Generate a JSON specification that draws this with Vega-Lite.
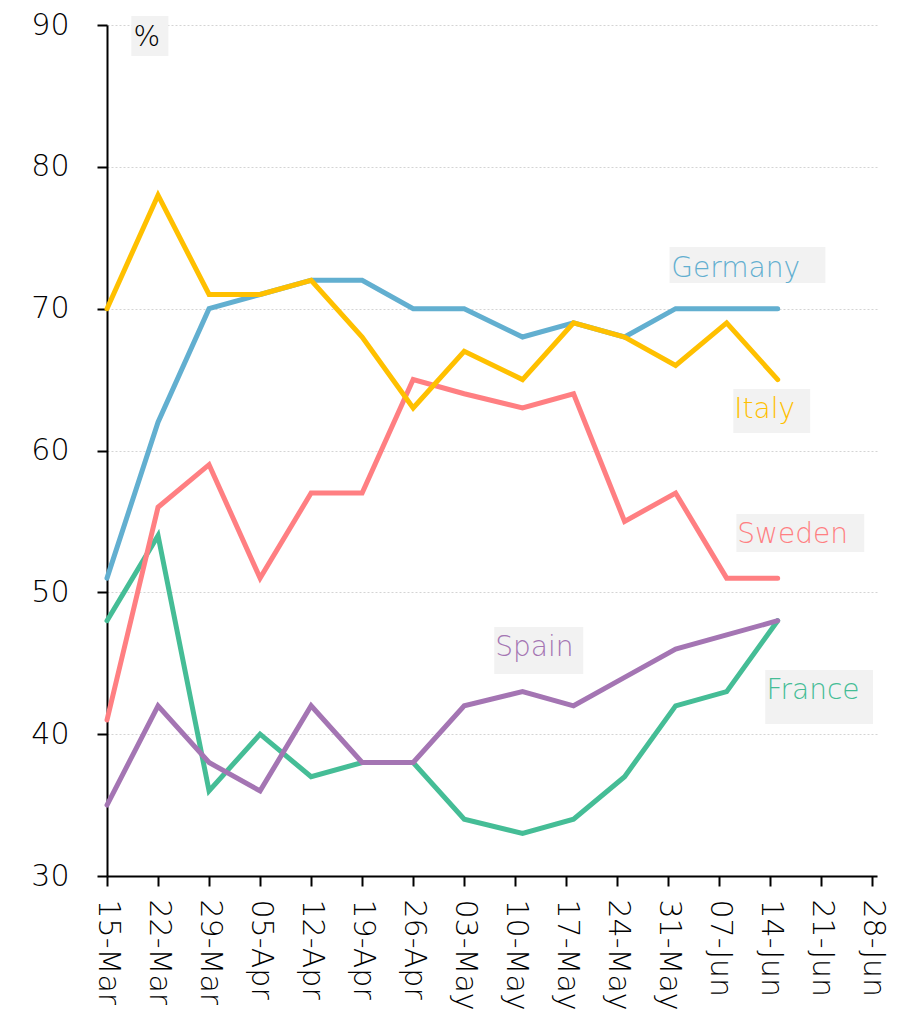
{
  "$schema": "https://vega.github.io/schema/vega-lite/v6.json",
  "width": 770,
  "height": 851,
  "autosize": "none",
  "padding": {"left": 107, "top": 25, "right": 27, "bottom": 133},
  "background": "white",
  "config": {"view": {"stroke": null}, "font": "DejaVu Sans"},
  "datasets": {
    "series": [
      {"date": "2020-03-15T00:00:00", "country": "Germany", "value": 51},
      {"date": "2020-03-22T00:00:00", "country": "Germany", "value": 62},
      {"date": "2020-03-29T00:00:00", "country": "Germany", "value": 70},
      {"date": "2020-04-05T00:00:00", "country": "Germany", "value": 71},
      {"date": "2020-04-12T00:00:00", "country": "Germany", "value": 72},
      {"date": "2020-04-19T00:00:00", "country": "Germany", "value": 72},
      {"date": "2020-04-26T00:00:00", "country": "Germany", "value": 70},
      {"date": "2020-05-03T00:00:00", "country": "Germany", "value": 70},
      {"date": "2020-05-11T00:00:00", "country": "Germany", "value": 68},
      {"date": "2020-05-18T00:00:00", "country": "Germany", "value": 69},
      {"date": "2020-05-25T00:00:00", "country": "Germany", "value": 68},
      {"date": "2020-06-01T00:00:00", "country": "Germany", "value": 70},
      {"date": "2020-06-08T00:00:00", "country": "Germany", "value": 70},
      {"date": "2020-06-15T00:00:00", "country": "Germany", "value": 70},
      {"date": "2020-03-15T00:00:00", "country": "France", "value": 48},
      {"date": "2020-03-22T00:00:00", "country": "France", "value": 54},
      {"date": "2020-03-29T00:00:00", "country": "France", "value": 36},
      {"date": "2020-04-05T00:00:00", "country": "France", "value": 40},
      {"date": "2020-04-12T00:00:00", "country": "France", "value": 37},
      {"date": "2020-04-19T00:00:00", "country": "France", "value": 38},
      {"date": "2020-04-26T00:00:00", "country": "France", "value": 38},
      {"date": "2020-05-03T00:00:00", "country": "France", "value": 34},
      {"date": "2020-05-11T00:00:00", "country": "France", "value": 33},
      {"date": "2020-05-18T00:00:00", "country": "France", "value": 34},
      {"date": "2020-05-25T00:00:00", "country": "France", "value": 37},
      {"date": "2020-06-01T00:00:00", "country": "France", "value": 42},
      {"date": "2020-06-08T00:00:00", "country": "France", "value": 43},
      {"date": "2020-06-15T00:00:00", "country": "France", "value": 48},
      {"date": "2020-03-15T00:00:00", "country": "Sweden", "value": 41},
      {"date": "2020-03-22T00:00:00", "country": "Sweden", "value": 56},
      {"date": "2020-03-29T00:00:00", "country": "Sweden", "value": 59},
      {"date": "2020-04-05T00:00:00", "country": "Sweden", "value": 51},
      {"date": "2020-04-12T00:00:00", "country": "Sweden", "value": 57},
      {"date": "2020-04-19T00:00:00", "country": "Sweden", "value": 57},
      {"date": "2020-04-26T00:00:00", "country": "Sweden", "value": 65},
      {"date": "2020-05-03T00:00:00", "country": "Sweden", "value": 64},
      {"date": "2020-05-11T00:00:00", "country": "Sweden", "value": 63},
      {"date": "2020-05-18T00:00:00", "country": "Sweden", "value": 64},
      {"date": "2020-05-25T00:00:00", "country": "Sweden", "value": 55},
      {"date": "2020-06-01T00:00:00", "country": "Sweden", "value": 57},
      {"date": "2020-06-08T00:00:00", "country": "Sweden", "value": 51},
      {"date": "2020-06-15T00:00:00", "country": "Sweden", "value": 51},
      {"date": "2020-03-15T00:00:00", "country": "Spain", "value": 35},
      {"date": "2020-03-22T00:00:00", "country": "Spain", "value": 42},
      {"date": "2020-03-29T00:00:00", "country": "Spain", "value": 38},
      {"date": "2020-04-05T00:00:00", "country": "Spain", "value": 36},
      {"date": "2020-04-12T00:00:00", "country": "Spain", "value": 42},
      {"date": "2020-04-19T00:00:00", "country": "Spain", "value": 38},
      {"date": "2020-04-26T00:00:00", "country": "Spain", "value": 38},
      {"date": "2020-05-03T00:00:00", "country": "Spain", "value": 42},
      {"date": "2020-05-11T00:00:00", "country": "Spain", "value": 43},
      {"date": "2020-05-18T00:00:00", "country": "Spain", "value": 42},
      {"date": "2020-05-25T00:00:00", "country": "Spain", "value": 44},
      {"date": "2020-06-01T00:00:00", "country": "Spain", "value": 46},
      {"date": "2020-06-08T00:00:00", "country": "Spain", "value": 47},
      {"date": "2020-06-15T00:00:00", "country": "Spain", "value": 48},
      {"date": "2020-03-15T00:00:00", "country": "Italy", "value": 70},
      {"date": "2020-03-22T00:00:00", "country": "Italy", "value": 78},
      {"date": "2020-03-29T00:00:00", "country": "Italy", "value": 71},
      {"date": "2020-04-05T00:00:00", "country": "Italy", "value": 71},
      {"date": "2020-04-12T00:00:00", "country": "Italy", "value": 72},
      {"date": "2020-04-19T00:00:00", "country": "Italy", "value": 68},
      {"date": "2020-04-26T00:00:00", "country": "Italy", "value": 63},
      {"date": "2020-05-03T00:00:00", "country": "Italy", "value": 67},
      {"date": "2020-05-11T00:00:00", "country": "Italy", "value": 65},
      {"date": "2020-05-18T00:00:00", "country": "Italy", "value": 69},
      {"date": "2020-05-25T00:00:00", "country": "Italy", "value": 68},
      {"date": "2020-06-01T00:00:00", "country": "Italy", "value": 66},
      {"date": "2020-06-08T00:00:00", "country": "Italy", "value": 69},
      {"date": "2020-06-15T00:00:00", "country": "Italy", "value": 65}
    ],
    "labels": [
      {"label": "%", "x1": "2020-03-18T08:00:00", "x2": "2020-03-23T10:00:00", "y1": 90.63, "y2": 87.81, "tx": "2020-03-18T15:00:00", "ty": 88.54},
      {"label": "Germany", "x1": "2020-05-31T04:00:00", "x2": "2020-06-21T13:00:00", "y1": 74.35, "y2": 71.81, "tx": "2020-05-31T10:00:00", "ty": 72.23},
      {"label": "Italy", "x1": "2020-06-08T22:00:00", "x2": "2020-06-19T11:00:00", "y1": 64.33, "y2": 61.23, "tx": "2020-06-09T01:00:00", "ty": 62.29},
      {"label": "Sweden", "x1": "2020-06-09T08:00:00", "x2": "2020-06-26T21:00:00", "y1": 55.52, "y2": 52.84, "tx": "2020-06-09T11:00:00", "ty": 53.48},
      {"label": "Spain", "x1": "2020-05-07T03:00:00", "x2": "2020-05-19T08:00:00", "y1": 47.55, "y2": 44.24, "tx": "2020-05-07T06:00:00", "ty": 45.51},
      {"label": "France", "x1": "2020-06-13T07:00:00", "x2": "2020-06-28T02:00:00", "y1": 44.52, "y2": 40.71, "tx": "2020-06-13T11:00:00", "ty": 42.48}
    ]
  },
  "layer": [
    {
      "data": {"name": "labels"},
      "mark": {"type": "rect", "color": "#f2f2f2"},
      "encoding": {
        "x": {"field": "x1", "type": "temporal"},
        "x2": {"field": "x2"},
        "y": {"field": "y1", "type": "quantitative"},
        "y2": {"field": "y2"}
      }
    },
    {
      "data": {"name": "series"},
      "mark": {"type": "line", "strokeWidth": 5, "strokeCap": "round", "strokeJoin": "miter"},
      "encoding": {
        "x": {
          "field": "date",
          "type": "temporal",
          "scale": {"domain": [{"year": 2020, "month": 3, "date": 15}, {"year": 2020, "month": 6, "date": 28, "hours": 15}]},
          "axis": {
            "title": null,
            "values": [
              {"year": 2020, "month": 3, "date": 15},
              {"year": 2020, "month": 3, "date": 22},
              {"year": 2020, "month": 3, "date": 29},
              {"year": 2020, "month": 4, "date": 5},
              {"year": 2020, "month": 4, "date": 12},
              {"year": 2020, "month": 4, "date": 19},
              {"year": 2020, "month": 4, "date": 26},
              {"year": 2020, "month": 5, "date": 3},
              {"year": 2020, "month": 5, "date": 10},
              {"year": 2020, "month": 5, "date": 17},
              {"year": 2020, "month": 5, "date": 24},
              {"year": 2020, "month": 5, "date": 31},
              {"year": 2020, "month": 6, "date": 7},
              {"year": 2020, "month": 6, "date": 14},
              {"year": 2020, "month": 6, "date": 21},
              {"year": 2020, "month": 6, "date": 28}
            ],
            "format": "%d-%b",
            "labelAngle": 90,
            "labelFont": "DejaVu Sans",
            "labelFontSize": 30,
            "labelFontWeight": 300,
            "labelColor": "#000000",
            "labelPadding": 13,
            "labelOverlap": false,
            "labelFlush": false,
            "labelBound": false,
            "domainColor": "#000000",
            "domainWidth": 2,
            "tickColor": "#000000",
            "tickWidth": 2,
            "tickSize": 10,
            "grid": false
          }
        },
        "y": {
          "field": "value",
          "type": "quantitative",
          "scale": {"domain": [30, 90], "nice": false, "zero": false},
          "axis": {
            "title": null,
            "values": [30, 40, 50, 60, 70, 80, 90],
            "labelFont": "DejaVu Sans",
            "labelFontSize": 30,
            "labelFontWeight": 300,
            "labelColor": "#000000",
            "labelPadding": 28,
            "domainColor": "#000000",
            "domainWidth": 2,
            "tickColor": "#000000",
            "tickWidth": 2,
            "tickSize": 10,
            "grid": true,
            "gridColor": "#d4d4d4",
            "gridDash": [2, 2],
            "gridWidth": 1
          }
        },
        "color": {
          "field": "country",
          "type": "nominal",
          "scale": {
            "domain": ["Germany", "Italy", "Sweden", "Spain", "France", "%"],
            "range": ["#62afd0", "#ffc000", "#ff7f82", "#a475b3", "#45bd96", "#000000"]
          },
          "legend": null
        }
      }
    },
    {
      "data": {"name": "labels"},
      "mark": {"type": "text", "align": "left", "baseline": "alphabetic", "fontSize": 28, "fontWeight": 300, "font": "DejaVu Sans"},
      "encoding": {
        "x": {"field": "tx", "type": "temporal"},
        "y": {"field": "ty", "type": "quantitative"},
        "text": {"field": "label"},
        "color": {"field": "label", "type": "nominal", "legend": null}
      }
    }
  ]
}
